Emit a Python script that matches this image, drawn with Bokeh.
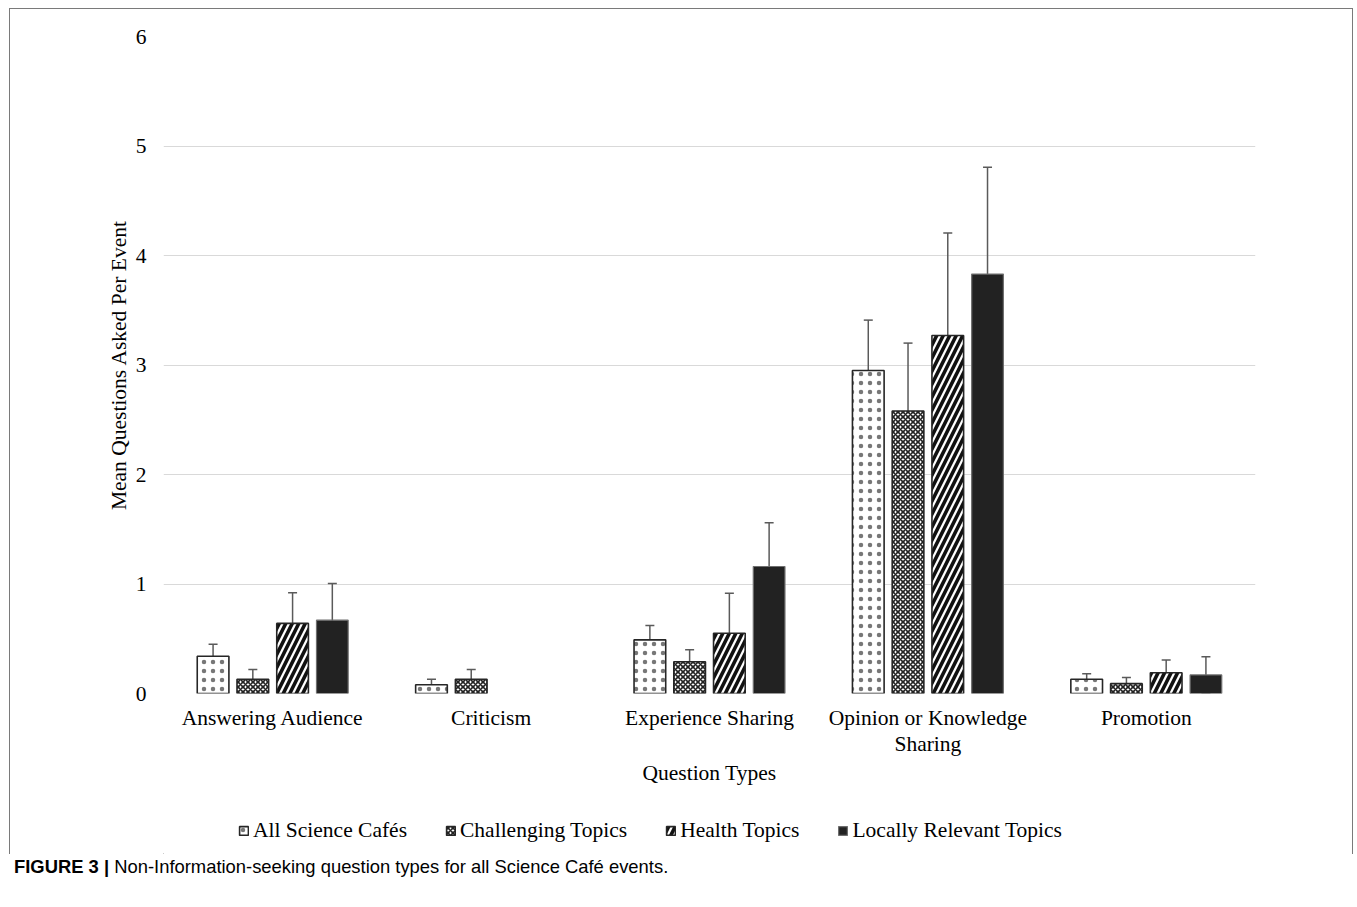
from bokeh.plotting import figure
from bokeh.models import (ColumnDataSource, FactorRange, Whisker, TeeHead, Legend,
                          LegendItem, FixedTicker, Div, Range1d)
from bokeh.layouts import column
from bokeh.transform import dodge
from bokeh.embed import file_html
from bokeh.resources import INLINE

categories = ["Answering Audience", "Criticism", "Experience Sharing",
              "Opinion or Knowledge\nSharing", "Promotion"]
series_names = ["All Science Cafés", "Challenging Topics", "Health Topics",
                "Locally Relevant Topics"]
all_cafes = [0.34, 0.08, 0.49, 2.95, 0.13]
all_cafes_err = [0.11, 0.05, 0.13, 0.46, 0.05]
challenging = [0.13, 0.13, 0.29, 2.58, 0.09]
challenging_err = [0.09, 0.09, 0.11, 0.62, 0.055]
health = [0.64, 0.0, 0.55, 3.27, 0.19]
health_err = [0.28, 0.0, 0.365, 0.935, 0.115]
local = [0.67, 0.0, 1.16, 3.83, 0.17]
local_err = [0.335, 0.0, 0.40, 0.975, 0.165]
y_ticks = [0, 1, 2, 3, 4, 5, 6]

values = [all_cafes, challenging, health, local]
errors = [all_cafes_err, challenging_err, health_err, local_err]

SERIF = "Liberation Serif"
FS = "21.5px"
BORDER = "1px solid #7a7a7a"

p = figure(x_range=FactorRange(factors=categories, range_padding=0),
           y_range=(0, 6), width=1344, height=791,
           min_border_left=153, min_border_right=99,
           min_border_top=27, min_border_bottom=107,
           output_backend="svg", toolbar_location=None,
           background_fill_color="white", border_fill_color="white")
p.styles = {"border-left": BORDER, "border-top": BORDER, "border-right": BORDER,
            "margin-left": "9px", "margin-top": "8px"}
p.outline_line_color = None

styles = [
    dict(fill_color="white", line_color="#262626", line_width=1.6,
         hatch_pattern="dot", hatch_scale=9, hatch_weight=1.0, hatch_color="#777777"),
    dict(fill_color="white", line_color="#262626", line_width=1.6,
         hatch_pattern="diagonal_cross", hatch_scale=5, hatch_weight=1.6, hatch_color="#222222"),
    dict(fill_color="white", line_color="#262626", line_width=1.6,
         hatch_pattern="right_diagonal_line", hatch_scale=13, hatch_weight=3.6, hatch_color="#111111"),
    dict(fill_color="#222222", line_color="#6e6e6e", line_width=1.2),
]

offsets = [-0.273, -0.091, 0.091, 0.273]
bar_w = 0.145
for vals, errs, off, st in zip(values, errors, offsets, styles):
    bs = dict(cat=[], val=[])
    ws = dict(cat=[], upper=[], lower=[])
    for c, v, e in zip(categories, vals, errs):
        if v > 0:
            bs["cat"].append(c)
            bs["val"].append(v)
        if e > 0:
            ws["cat"].append(c)
            ws["upper"].append(v + e)
            ws["lower"].append(max(v - e, 0))
    p.vbar(x=dodge("cat", off, range=p.x_range), top="val", width=bar_w,
           source=ColumnDataSource(bs), **st)
    w = Whisker(base=dodge("cat", off, range=p.x_range), upper="upper", lower="lower",
                source=ColumnDataSource(ws), line_color="#5a5a5a", line_width=1.5,
                upper_head=TeeHead(size=9, line_color="#5a5a5a", line_width=1.5),
                lower_head=TeeHead(size=9, line_color="#5a5a5a", line_width=1.5))
    p.add_layout(w)

# grid and axes
p.xgrid.grid_line_color = None
p.ygrid.grid_line_color = "#d9d9d9"
p.ygrid.grid_line_width = 1.2
p.yaxis.ticker = FixedTicker(ticks=y_ticks)
for ax in (p.xaxis[0], p.yaxis[0]):
    ax.axis_line_color = None
    ax.major_tick_line_color = None
    ax.minor_tick_line_color = None
    ax.major_label_text_font = SERIF
    ax.major_label_text_font_size = FS
    ax.major_label_text_color = "black"
    ax.axis_label_text_font = SERIF
    ax.axis_label_text_font_size = FS
    ax.axis_label_text_font_style = "normal"
    ax.axis_label_text_color = "black"
p.yaxis.axis_label = "Mean Questions Asked Per Event"
p.xaxis.axis_label = "Question Types"
p.yaxis.major_label_standoff = 11
p.yaxis.axis_label_standoff = 2
p.xaxis.major_label_standoff = 6
p.xaxis.axis_label_standoff = 2
p.xaxis.major_label_text_line_height = 1.1

# legend strip (separate figure below the chart)
lg = figure(width=1344, height=55, x_range=Range1d(0, 1), y_range=Range1d(0, 1),
            x_axis_type=None, y_axis_type=None, min_border=0,
            min_border_left=0, min_border_right=0, min_border_top=0, min_border_bottom=0,
            output_backend="svg", toolbar_location=None,
            background_fill_color="white", border_fill_color="white")
lg.styles = {"border-left": BORDER, "border-right": BORDER, "margin-left": "9px"}
lg.outline_line_color = None
lg.xgrid.visible = False
lg.ygrid.visible = False
# key swatches: one off-screen bar per series so the legend can draw its swatch
leg_renderers = [lg.vbar(x=[-10], top=[-10], bottom=[-11], width=0.1, **st) for st in styles]
legend = Legend(items=[LegendItem(label=n, renderers=[r], index=0)
                       for n, r in zip(series_names, leg_renderers)],
                orientation="horizontal", location=(75, 11),
                glyph_width=11, glyph_height=11, label_standoff=4, spacing=38,
                padding=0, margin=0, border_line_color=None, background_fill_alpha=0,
                label_text_font=SERIF, label_text_font_size=FS, label_text_color="black")
lg.add_layout(legend, "center")

caption = Div(text="<b>FIGURE 3 |</b> Non-Information-seeking question types for all Science Café events.",
              styles={"font-family": "Liberation Sans", "font-size": "18.4px", "color": "black",
                      "margin-left": "14px", "margin-top": "0px"})

layout = column(p, lg, caption, spacing=0)
out = file_html(layout, INLINE)
open("out.html", "w").write(out)
